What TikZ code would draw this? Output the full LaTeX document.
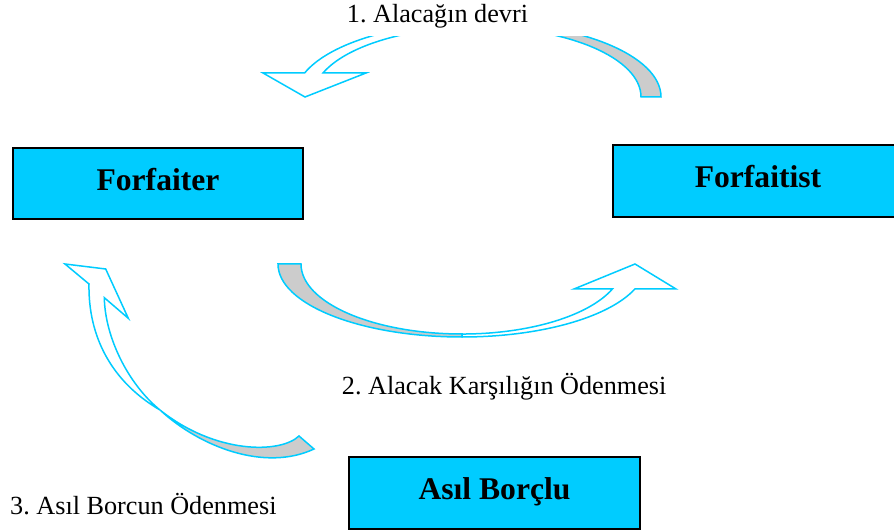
\documentclass[tikz,border=0pt]{standalone}
\usepackage{fontspec}
\setmainfont{Liberation Serif}
\frenchspacing
\definecolor{skyc}{HTML}{00CCFF}
\definecolor{backg}{HTML}{CCCCCC}
\tikzset{
  x=1pt, y=1pt,
  party/.style={draw=black, line width=2.5pt, fill=skyc, inner sep=0pt},
  partytext/.style={font=\fontsize{31.6}{36}\selectfont\bfseries, inner sep=0pt, anchor=base},
  steplabel/.style={font=\fontsize{26.2}{30}\selectfont\frenchspacing, inner sep=0pt, anchor=base west},
  frontband/.style={draw=skyc, line width=1.5pt, fill=white, line join=miter},
  backband/.style={draw=skyc, line width=1.5pt, fill=backg, line join=miter}
}
\begin{document}
\begin{tikzpicture}
\clip (0,0) rectangle (894,532);
\fill[white] (0,0) rectangle (894,532);

% boxes
\draw[party] (13,313) rectangle (303,384);
\node[partytext] (forfaiter) at (158,341.3) {Forfaiter};
\draw[party] (613,315) rectangle (903,387);
\node[partytext] (forfaitist) at (758,344.7) {Forfaitist};
\draw[party] (349,3) rectangle (640,75);
\node[partytext] (borclu) at (494.5,32.7) {Asıl Borçlu};

% arrow 1 (top)
\begin{scope}
\clip (0,0) rectangle (894,495);
\draw[backband] (478,510) arc[start angle=90, end angle=0, x radius=183, y radius=75]
  -- (641,435) arc[start angle=0, end angle=90, x radius=163, y radius=70] -- cycle;
\draw[frontband] (478,510) arc[start angle=90, end angle=161.3, x radius=183, y radius=75]
  -- (263,459) -- (305,435) -- (366,459) -- (323,459)
  arc[start angle=159.95, end angle=90, x radius=165, y radius=70] -- cycle;
\end{scope}

% arrow 2 (middle)
\draw[backband] (278,268) arc[start angle=180, end angle=270, x radius=184, y radius=73]
  -- (462,198) arc[start angle=270, end angle=180, x radius=161, y radius=70] -- cycle;
\draw[frontband] (462,195) arc[start angle=270, end angle=340, x radius=184, y radius=73]
  -- (676,243) -- (635,268) -- (574,243) -- (612.4,243)
  arc[start angle=339.1, end angle=270, x radius=161, y radius=70] -- cycle;

% arrow 3 (left)
\draw[backband] (160,122) .. controls (200,85) and (265,60) .. (314,83)
  -- (299,96) .. controls (280,78) and (215,78) .. (160,122) -- cycle;
\draw[frontband] (160,122) .. controls (112,150) and (88,195) .. (89,248)
  -- (65,268) -- (105.7,263) -- (128.3,213.7) -- (104.3,234.3)
  .. controls (105,195) and (128,148) .. (160,122) -- cycle;

% labels
\node[steplabel] (lab1) at (346.7,509) {1. Alacağın devri};
\node[steplabel] (lab2) at (341.7,137.7) {2. Alacak Karşılığın Ödenmesi};
\node[steplabel] (lab3) at (10,17.7) {3. Asıl Borcun Ödenmesi};
\end{tikzpicture}
\end{document}
